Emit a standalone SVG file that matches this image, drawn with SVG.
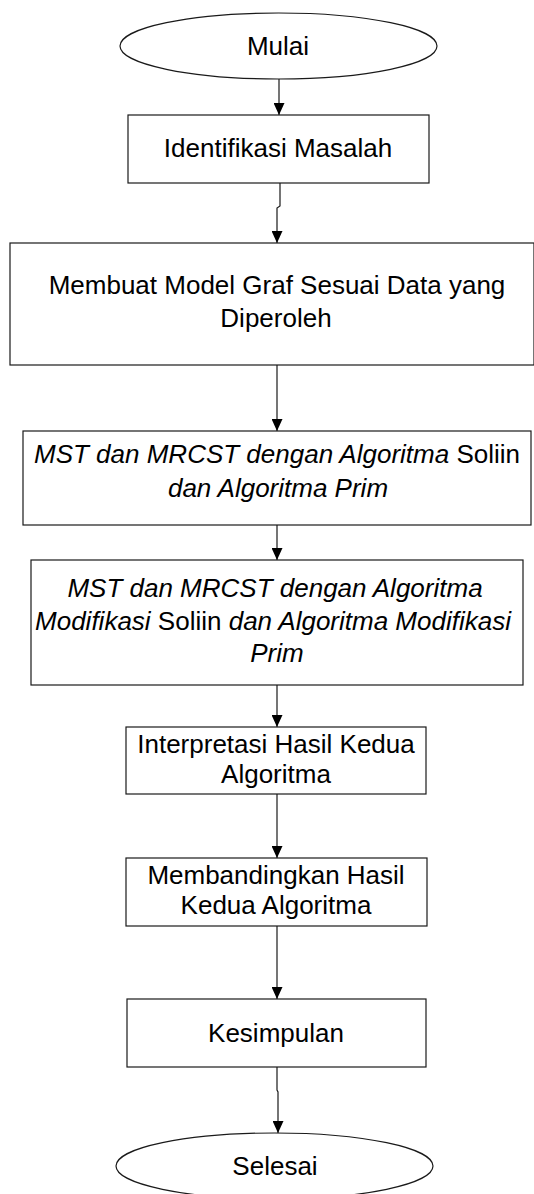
<svg xmlns="http://www.w3.org/2000/svg" width="534" height="1194" viewBox="0 0 534 1194">
  <style>
    .shape { fill: #ffffff; stroke: #1a1a1a; stroke-width: 1.2; }
    .link { fill: none; stroke: #1a1a1a; stroke-width: 1.2; }
    .label { font-family: "Liberation Sans", Arial, sans-serif; font-size: 26px; fill: #000000; text-anchor: middle; }
    .it { font-style: italic; }
  </style>
  <defs>
    <marker id="arrow" markerUnits="userSpaceOnUse" markerWidth="12" markerHeight="11" refX="12" refY="5.5" orient="auto">
      <path d="M0,0 L12,5.5 L0,11 z" fill="#000000"/>
    </marker>
  </defs>

  <rect width="534" height="1194" fill="#ffffff"/>

  <!-- connectors -->
  <g id="connectors">
    <path class="link" d="M279,79 L279,115" marker-end="url(#arrow)"/>
    <path class="link" d="M280,183 L280,206 L277,208 L277,243" marker-end="url(#arrow)"/>
    <path class="link" d="M277,365 L277,431" marker-end="url(#arrow)"/>
    <path class="link" d="M277,525 L277,560" marker-end="url(#arrow)"/>
    <path class="link" d="M277,685 L277,727" marker-end="url(#arrow)"/>
    <path class="link" d="M277,794 L277,858" marker-end="url(#arrow)"/>
    <path class="link" d="M277,926 L277,999" marker-end="url(#arrow)"/>
    <path class="link" d="M277,1067 L277,1090 L278,1092 L278,1133" marker-end="url(#arrow)"/>
  </g>

  <g id="start">
    <ellipse class="shape" cx="278.5" cy="46" rx="158.5" ry="33"/>
    <text class="label" x="278" y="55">Mulai</text>
  </g>

  <g id="identify">
    <rect class="shape" x="128" y="115" width="301" height="68"/>
    <text class="label" x="278" y="157">Identifikasi Masalah</text>
  </g>

  <g id="model">
    <rect class="shape" x="10" y="243" width="524" height="122"/>
    <text class="label" x="277" y="294">Membuat Model Graf Sesuai Data yang</text>
    <text class="label" x="276" y="327">Diperoleh</text>
  </g>

  <g id="mst">
    <rect class="shape" x="23" y="431" width="508" height="94"/>
    <text class="label" x="277" y="463"><tspan class="it">MST dan MRCST dengan Algoritma</tspan> Soliin</text>
    <text class="label it" x="278" y="497">dan Algoritma Prim</text>
  </g>

  <g id="mst-mod">
    <rect class="shape" x="31" y="560" width="492" height="125"/>
    <text class="label it" x="275" y="597">MST dan MRCST dengan Algoritma</text>
    <text class="label" x="273" y="630"><tspan class="it">Modifikasi</tspan> Soliin <tspan class="it">dan Algoritma Modifikasi</tspan></text>
    <text class="label it" x="277" y="662">Prim</text>
  </g>

  <g id="interpret">
    <rect class="shape" x="126" y="727" width="300" height="67"/>
    <text class="label" x="276" y="753">Interpretasi Hasil Kedua</text>
    <text class="label" x="276" y="783">Algoritma</text>
  </g>

  <g id="compare">
    <rect class="shape" x="126" y="858" width="301" height="68"/>
    <text class="label" x="276" y="884">Membandingkan Hasil</text>
    <text class="label" x="276" y="914">Kedua Algoritma</text>
  </g>

  <g id="conclusion">
    <rect class="shape" x="127" y="999" width="299" height="68"/>
    <text class="label" x="276" y="1042">Kesimpulan</text>
  </g>

  <g id="end">
    <ellipse class="shape" cx="274.5" cy="1166" rx="158.5" ry="33"/>
    <text class="label" x="275" y="1175">Selesai</text>
  </g>
</svg>
